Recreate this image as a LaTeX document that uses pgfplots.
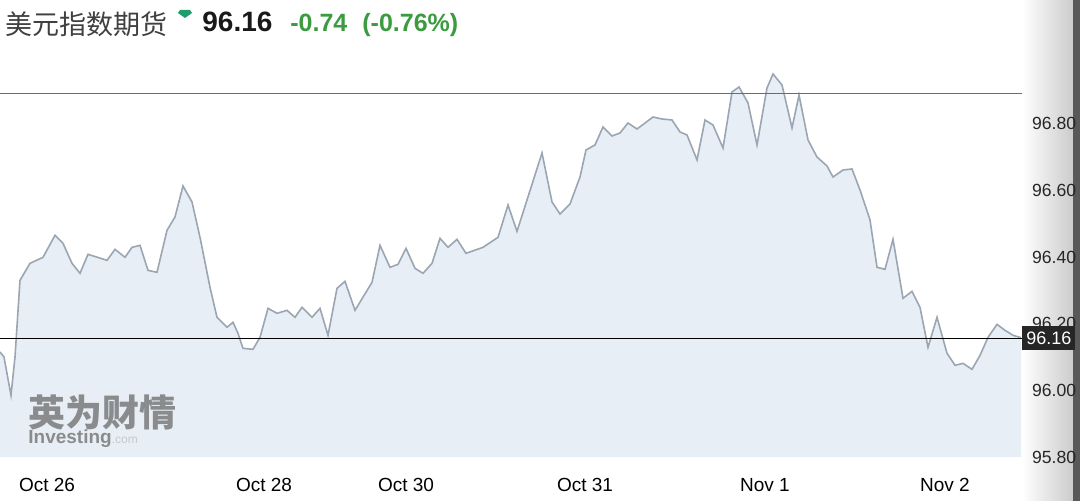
\documentclass[border=0pt]{standalone}
\usepackage{fontspec}
\setmainfont{Liberation Sans}
\newfontfamily\cjk{Noto Sans CJK SC}
\usepackage{pgfplots}
\pgfplotsset{compat=1.18}
\definecolor{fillc}{HTML}{E8EEF5}
\definecolor{linec}{HTML}{9BA6B2}
\definecolor{greent}{HTML}{3A9B3F}
\definecolor{pinc}{HTML}{1E9E6C}
\definecolor{redl}{HTML}{D04040}
\pgfplotstableread{
x y
0 96.115
4 96.100
11 95.985
15 96.100
20 96.330
30 96.381
43 96.399
55 96.465
63 96.441
72 96.381
80 96.351
88 96.408
107 96.390
115 96.423
125 96.399
132 96.429
140 96.435
148 96.360
157 96.354
167 96.480
175 96.520
183 96.613
192 96.565
200 96.459
210 96.309
217 96.219
227 96.189
233 96.204
238 96.171
243 96.126
253 96.123
260 96.159
268 96.246
277 96.231
287 96.240
295 96.219
302 96.249
312 96.219
320 96.246
328 96.165
337 96.306
345 96.327
355 96.240
372 96.324
380 96.435
390 96.369
398 96.378
406 96.426
415 96.366
423 96.351
432 96.381
440 96.456
448 96.429
457 96.453
466 96.411
483 96.429
498 96.459
508 96.556
517 96.477
527 96.571
542 96.712
552 96.565
560 96.529
570 96.559
580 96.640
586 96.721
595 96.736
603 96.790
612 96.763
620 96.772
628 96.802
637 96.784
645 96.802
653 96.820
662 96.814
672 96.811
680 96.775
687 96.766
697 96.691
705 96.811
713 96.796
723 96.727
732 96.895
739 96.910
748 96.862
757 96.736
767 96.907
773 96.949
782 96.916
792 96.787
799 96.886
808 96.751
817 96.700
827 96.673
833 96.640
843 96.661
852 96.664
860 96.601
870 96.511
877 96.369
885 96.363
893 96.453
903 96.276
912 96.297
920 96.249
928 96.129
937 96.219
947 96.111
955 96.075
963 96.081
972 96.063
980 96.105
988 96.159
997 96.198
1005 96.180
1013 96.165
1021 96.158
}\dxy
\begin{document}
\begin{tikzpicture}[x=0.5pt,y=0.5pt]
\useasboundingbox (0,-44) rectangle (1080,457);
\fill[white] (0,-44) rectangle (1080,457);
\shade[left color=white, right color=black!20] (1022,-44) rectangle (1073,457);
\fill[black!65] (1073,-44) rectangle (1080,457);
\begin{axis}[
  at={(0,0)}, anchor=south west,
  scale only axis, width=511pt, height=197.5pt,
  xmin=0, xmax=1022, ymin=95.80, ymax=96.985,
  axis line style={draw=none},
  major tick length=0pt,
  clip mode=individual,
  xtick={47,264,406,585,765,945},
  xticklabels={Oct 26,Oct 28,Oct 30,Oct 31,Nov 1,Nov 2},
  xticklabel style={font=\fontsize{9.5}{11}\selectfont, text=black, anchor=base, yshift=-17.5pt},
  ytick={95.8,96.0,96.2,96.4,96.6,96.8},
  yticklabel pos=right,
  /pgf/number format/assume math mode=true,
  yticklabel style={/pgf/number format/.cd, fixed, fixed zerofill, precision=2, /tikz/.cd,
     font=\fontsize{8.8}{10}\selectfont, text=black!85, anchor=west, xshift=1.5pt},
]
\addplot[fill=fillc, draw=none] table[x=x,y=y]{\dxy} \closedcycle;
\addplot[linec, line width=0.8pt] table[x=x,y=y]{\dxy};
\addplot[redl, line width=0.8pt] coordinates {(0,96.89) (1022,96.89)};
\addplot[black, line width=0.7pt] coordinates {(0,96.156) (1022,96.156)};
\node[fill=black!85, text=white, inner sep=0pt, minimum width=26.5pt, minimum height=12pt,
      anchor=west, font=\fontsize{9}{10}\selectfont] at (axis cs:1022,96.156) {96.16};
\end{axis}
% title
\node[anchor=base west, inner sep=0pt, font=\cjk\fontsize{13.5}{15}\selectfont, text=black!75] at (5,422) {美元指数期货};
\fill[pinc] (180,447) -- (190,447) -- (192,444) -- (185,439) -- (178,444) -- cycle;
\node[anchor=base west, inner sep=0pt, font=\bfseries\fontsize{14}{16}\selectfont, text=black!90] at (202,425) {96.16};
\node[anchor=base west, inner sep=0pt, font=\bfseries\fontsize{12.5}{14}\selectfont, text=greent] at (290,425) {-0.74};
\node[anchor=base west, inner sep=0pt, font=\bfseries\fontsize{12.5}{14}\selectfont, text=greent] at (362,425) {(-0.76\%)};
% watermark
\node[anchor=base west, inner sep=0pt, font=\cjk\bfseries\fontsize{18.5}{20}\selectfont, text=black!55, opacity=0.8] at (28,30) {英为财情};
\node[anchor=base west, inner sep=0pt, font=\bfseries\fontsize{9.5}{11}\selectfont, text=black!55, opacity=0.8] at (28,13) {Investing\textcolor{black!25}{\mdseries\fontsize{6}{7}\selectfont .com}};
\end{tikzpicture}
\end{document}
